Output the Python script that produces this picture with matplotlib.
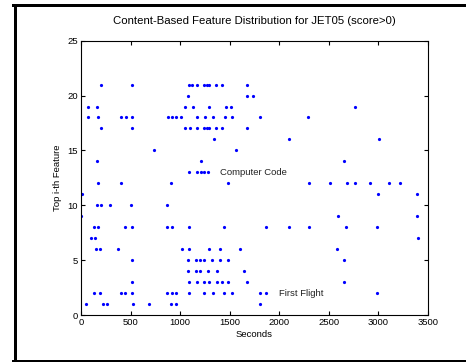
import numpy as np
import matplotlib.pyplot as plt
from matplotlib.lines import Line2D

# feature rank (y) -> seconds at which it appears (x)
rows = {
    21: [202, 511, 1090, 1123, 1171, 1238, 1268, 1295, 1362, 1423, 1675],
    20: [1083, 1672, 1732],
    19: [67, 163, 1053, 1133, 1292, 1463, 1514, 2765],
    18: [67, 170, 404, 454, 516, 880, 918, 959, 1004, 1171, 1248, 1335,
         1456, 1521, 1803, 2290],
    17: [202, 511, 1053, 1095, 1171, 1238, 1268, 1295, 1362, 1421, 1675],
    16: [1345, 2098, 3005],
    15: [735, 1562],
    14: [163, 1206, 2654],
    13: [1087, 1172, 1206, 1240, 1285],
    12: [168, 404, 906, 1480, 2302, 2513, 2681, 2765, 2916, 3111, 3219],
    11: [8, 3000, 3387],
    10: [163, 202, 291, 501, 864],
    9: [0, 2593, 3387],
    8: [133, 170, 444, 518, 872, 922, 1092, 1440, 1862, 2102, 2297, 2674,
        2983],
    7: [101, 146, 3394],
    6: [150, 195, 378, 1019, 1087, 1295, 1399, 1608, 2587],
    5: [511, 1077, 1157, 1198, 1238, 1319, 1399, 1487, 2654],
    4: [1077, 1164, 1204, 1278, 1376, 1642],
    3: [511, 1092, 1174, 1238, 1288, 1369, 1423, 1487, 1676, 2654],
    2: [136, 190, 404, 444, 518, 871, 922, 957, 1092, 1238, 1335, 1440,
        1521, 1806, 1862, 2983],
    1: [50, 217, 260, 528, 686, 906, 963, 1806],
}

seconds = np.concatenate([rows[k] for k in rows])
feature = np.concatenate([[k] * len(rows[k]) for k in rows])

labels = ["Computer Code", "First Flight"]
label_x = [1400, 2000]
label_y = [13, 2]

plt.rcParams['font.family'] = ['Liberation Sans', 'DejaVu Sans']
plt.rcParams['font.size'] = 6.8

fig = plt.figure(figsize=(4.66, 3.62), dpi=100)
ax = fig.add_axes([0.1738, 0.1298, 0.7447, 0.7578])

ax.plot(seconds, feature, 'o', color='#0000ff', markersize=2.3,
        markeredgewidth=0)

for t, tx, ty in zip(labels, label_x, label_y):
    ax.text(tx, ty, t, ha='left', va='center', color='#222222')

ax.set_xlim(0, 3500)
ax.set_ylim(0, 25)
ax.set_xticks(np.arange(0, 3501, 500))
ax.set_yticks(np.arange(0, 26, 5))
ax.tick_params(direction='in', top=True, right=True, length=3,
               width=0.8, pad=2)
for s in ax.spines.values():
    s.set_linewidth(0.8)

ax.set_xlabel("Seconds", labelpad=2)
ax.set_ylabel("Top i-th Feature", labelpad=4)
ax.set_title("Content-Based Feature Distribution for JET05 (score>0)",
             pad=12)

# thick black frame (left, top, bottom) around the figure
W, H = 466, 362
lw = 3 * 72 / 100
fig.add_artist(Line2D([14.5 / W, 14.5 / W], [1 - 5.3 / H, 1 - 360.5 / H],
                      color='black', lw=lw, transform=fig.transFigure))
fig.add_artist(Line2D([13 / W, 1.0], [1 - 5.3 / H, 1 - 5.3 / H],
                      color='black', lw=lw, transform=fig.transFigure))
fig.add_artist(Line2D([13 / W, 1.0], [1 - 360.5 / H, 1 - 360.5 / H],
                      color='black', lw=lw, transform=fig.transFigure))

fig.savefig("out.png", dpi=100)
